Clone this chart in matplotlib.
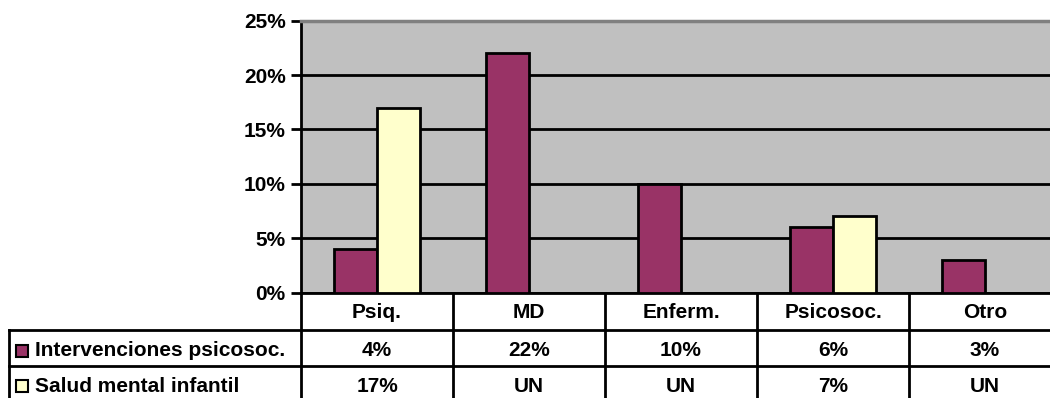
import numpy as np
import matplotlib.pyplot as plt

plt.rcParams['font.family'] = ['Liberation Sans', 'DejaVu Sans']
plt.rcParams['font.weight'] = 'bold'

categorias = ['Psiq.', 'MD', 'Enferm.', 'Psicosoc.', 'Otro']
series = ['Intervenciones psicosoc.', 'Salud mental infantil']
intervenciones = [4, 22, 10, 6, 3]
salud_infantil = [17, None, None, 7, None]
colores = ['#993366', '#FFFFCC']

W, H = 1050, 398
fig = plt.figure(figsize=(W / 100, H / 100), dpi=100)

# plot area in pixels
left, right, top, bottom = 301, 1061, 20.7, 292.5
ax = fig.add_axes([left / W, 1 - bottom / H, (right - left) / W, (bottom - top) / H])
ax.set_facecolor('#C0C0C0')

x = np.arange(len(categorias))
w = 1 / 3.5
v1 = np.array(intervenciones, dtype=float)
v2 = np.array([np.nan if v is None else v for v in salud_infantil], dtype=float)
ax.bar(x - w / 2, v1, w, color=colores[0], edgecolor='black', linewidth=2, zorder=3)
m = ~np.isnan(v2)
ax.bar(x[m] + w / 2, v2[m], w, color=colores[1], edgecolor='black', linewidth=2, zorder=3)

fs = 15
ax.set_xlim(-0.5, len(categorias) - 0.5)
ax.set_ylim(0, 25)
ax.set_yticks(np.arange(0, 26, 5))
ax.set_yticklabels([f'{t}%' for t in range(0, 26, 5)], fontsize=fs, fontweight='bold')
ax.yaxis.grid(True, color='black', linewidth=2)
ax.set_axisbelow(True)
ax.set_xticks([])
ax.tick_params(axis='y', length=7, width=2, pad=4, color='black')
for s in ['left', 'bottom']:
    ax.spines[s].set_linewidth(2)
    ax.spines[s].set_color('black')
ax.spines['top'].set_color('#808080')
ax.spines['top'].set_linewidth(2.5)
ax.spines['right'].set_visible(False)

# data table below the plot, drawn in pixel coordinates
tab = fig.add_axes([0, 0, 1, 1], zorder=-1)
tab.set_xlim(0, W)
tab.set_ylim(H, 0)
tab.axis('off')

cw = (right - left) / len(categorias)
rows = [bottom, 330, 366, 402]
lw = 2
edges = [left + i * cw for i in range(len(categorias) + 1)]
for e in edges:
    tab.plot([e, e], [bottom, rows[-1]], color='black', lw=lw, clip_on=False)
tab.plot([9, 9], [rows[1], rows[-1]], color='black', lw=lw)
for r in rows[1:3]:
    tab.plot([9, right], [r, r], color='black', lw=lw)

y_txt = [312, 351, 386]
for i, c in enumerate(categorias):
    cx = left + (i + 0.5) * cw
    tab.text(cx, y_txt[0], c, ha='center', va='center', fontsize=fs, fontweight='bold')
    tab.text(cx, y_txt[1], f'{intervenciones[i]}%', ha='center', va='center',
             fontsize=fs, fontweight='bold')
    val = salud_infantil[i]
    tab.text(cx, y_txt[2], 'UN' if val is None else f'{val}%', ha='center',
             va='center', fontsize=fs, fontweight='bold')

for j, (nombre, col) in enumerate(zip(series, colores)):
    cy = y_txt[j + 1]
    tab.add_patch(plt.Rectangle((16, cy - 6), 12, 12, facecolor=col, edgecolor='black', lw=1.5))
    tab.text(35, cy, nombre, ha='left', va='center', fontsize=fs, fontweight='bold')

fig.savefig('out.png', dpi=100)
